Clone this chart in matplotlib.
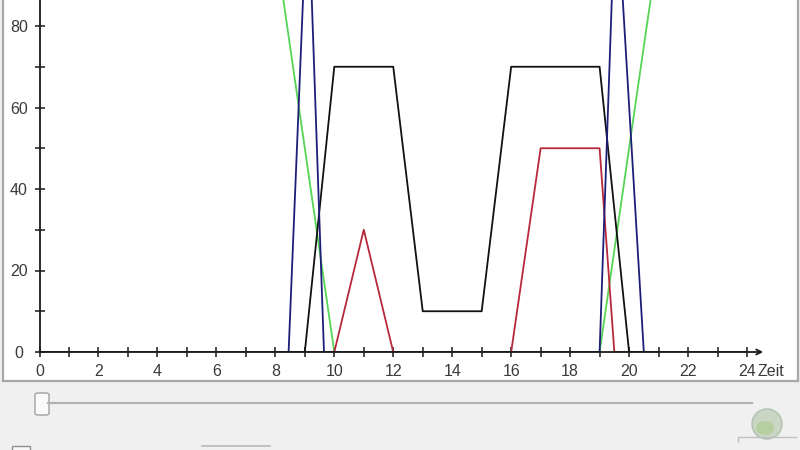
import matplotlib
matplotlib.use("Agg")
import matplotlib.pyplot as plt
from matplotlib.patches import Rectangle, FancyBboxPatch, Ellipse
from matplotlib.ticker import MultipleLocator, FuncFormatter

# ---- data ----
black_hours = [0, 9, 10, 12, 13, 15, 16, 19, 20, 24]
black_vals = [0, 0, 70, 70, 10, 10, 70, 70, 0, 0]

red_hours = [0, 10, 11, 12, 16, 17, 19, 19.5, 24]
red_vals = [0, 0, 30, 0, 0, 50, 50, 0, 0]

green_hours = [0, 8, 10, 19, 21, 24]
green_vals = [100, 100, 0, 0, 100, 100]

navy_hours = [0, 8.45, 9.1, 9.65, 19, 19.55, 20.5, 24]
navy_vals = [0, 0, 115, 0, 0, 115, 0, 0]

x_label = "Zeit"

W, H = 800, 450
fig = plt.figure(figsize=(W / 100, H / 100), dpi=100)
fig.patch.set_facecolor("#f0f0f0")
plt.rcParams["font.family"] = ["Liberation Sans", "DejaVu Sans"]

def fx(px):
    return px / W

def fy(py):
    return 1 - py / H

# white chart panel
panel = Rectangle((fx(3), fy(381)), fx(795), 381 / H, transform=fig.transFigure,
                  facecolor="white", edgecolor="none", zorder=-5)
fig.add_artist(panel)
for xs, ys in (([3, 3], [0, 381]), ([3, 798], [381, 381]), ([798, 798], [0, 381])):
    fig.add_artist(plt.Line2D([fx(v) for v in xs], [fy(v) for v in ys],
                              color="#a8a8a8", lw=1.6, transform=fig.transFigure, zorder=-4))

ax = fig.add_axes([fx(39.5), fy(352), (747 - 39.5) / W, 352 / H], zorder=1)
ax.set_facecolor("none")
ax.set_xlim(0, 24)
ax.set_ylim(0, 352 / 4.075)

lw = 1.3
ax.plot(green_hours, green_vals, color="#55d455", lw=lw, zorder=2)
ax.plot(red_hours, red_vals, color="#b8283c", lw=lw, zorder=2)
ax.plot(black_hours, black_vals, color="#111111", lw=lw, zorder=2)
ax.plot(navy_hours, navy_vals, color="#1e1e78", lw=lw, zorder=2)

for s in ["top", "right", "bottom"]:
    ax.spines[s].set_visible(False)
ax.spines["left"].set_color("#1a1a1a")
ax.spines["left"].set_linewidth(1.3)

ax.annotate("", xy=(24.55, 0), xytext=(0, 0), xycoords="data",
            arrowprops=dict(arrowstyle="->", lw=1.3, color="#1a1a1a",
                            mutation_scale=9, shrinkA=0, shrinkB=0),
            annotation_clip=False, zorder=4)

ax.xaxis.set_major_locator(MultipleLocator(2))
ax.xaxis.set_minor_locator(MultipleLocator(1))
ax.yaxis.set_major_locator(MultipleLocator(20))
ax.yaxis.set_minor_locator(MultipleLocator(10))
ax.xaxis.set_major_formatter(FuncFormatter(lambda v, p: f"{int(round(v))}"))
ax.yaxis.set_major_formatter(FuncFormatter(lambda v, p: f"{int(round(v))}"))

for axis, pad in ((ax.xaxis, 5.2), (ax.yaxis, 11.5)):
    axis.set_tick_params(which="both", direction="inout", length=6.5, width=1.1,
                         color="#1a1a1a", pad=pad)
    axis.set_tick_params(which="major", labelsize=11.5, labelcolor="#3a3a3a")
for lab in ax.get_yticklabels():
    lab.set_horizontalalignment("center")

ax.text(757 / W, fy(371.5), x_label, transform=fig.transFigure, ha="left", va="center",
        fontsize=11.5, color="#3a3a3a")

# slider
fig.add_artist(plt.Line2D([fx(48), fx(752)], [fy(403), fy(403)],
                          color="#b0b0b0", lw=1.5, transform=fig.transFigure))
thumb = FancyBboxPatch((fx(35), fy(415)), fx(14), 22 / H, boxstyle="round,pad=0,rounding_size=0.004",
                       transform=fig.transFigure, facecolor="#fafafa", edgecolor="#a0a0a0",
                       linewidth=1.0)
fig.add_artist(thumb)

# bottom controls (partially visible)
fig.add_artist(Rectangle((fx(12), fy(452)), fx(18), 6 / H, transform=fig.transFigure,
                         facecolor="#f8f8f8", edgecolor="#909090", linewidth=1.0))
fig.add_artist(plt.Line2D([fx(202), fx(270)], [fy(446), fy(446)],
                          color="#b8b8b8", lw=1.2, transform=fig.transFigure))

# globe icon bottom right
fig.add_artist(Ellipse((fx(767), fy(424)), 30 / W, 30 / H, transform=fig.transFigure,
                       facecolor="#c9d6c4", edgecolor="#b0c0b0", linewidth=1.0))
fig.add_artist(Ellipse((fx(765), fy(428)), 18 / W, 14 / H, transform=fig.transFigure,
                       facecolor="#b7cfa0", edgecolor="none"))
fig.add_artist(plt.Line2D([fx(738), fx(738), fx(796)], [fy(442), fy(437), fy(437)],
                          color="#c0c0c0", lw=1.0, transform=fig.transFigure))

fig.savefig("out.png", dpi=100, facecolor=fig.get_facecolor())
